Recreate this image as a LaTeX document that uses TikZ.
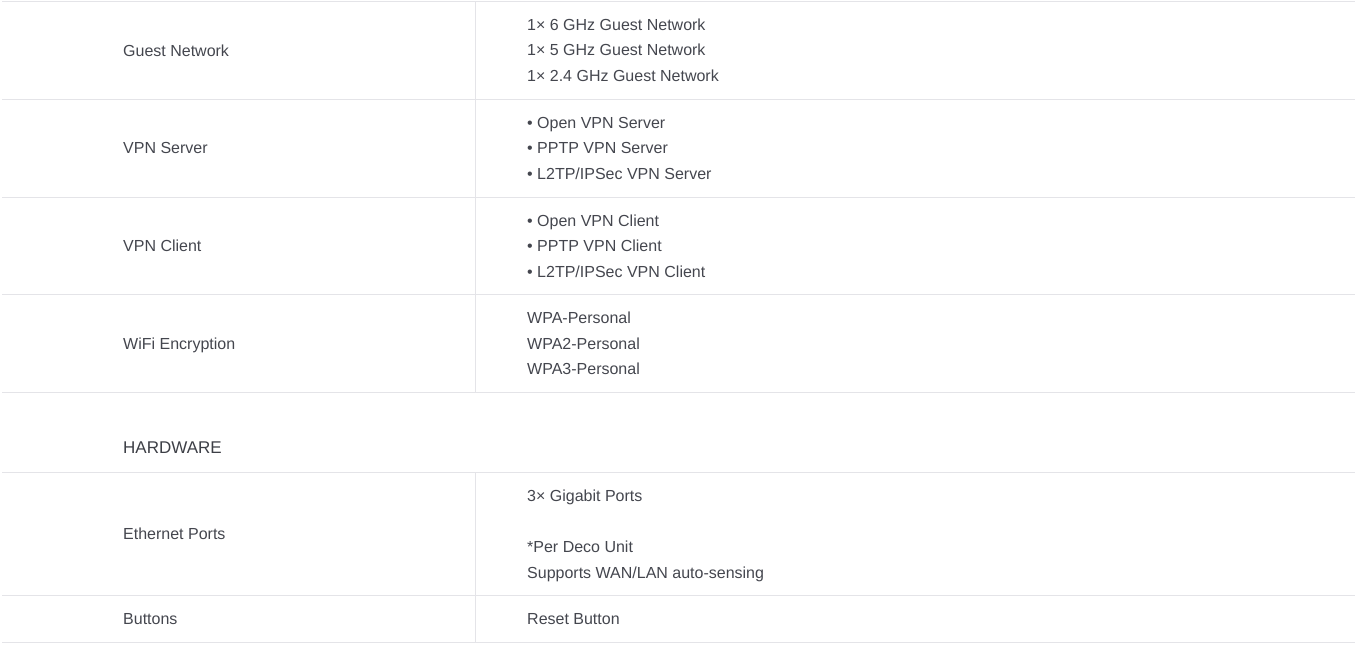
\documentclass[tikz,border=0pt]{standalone}
\usepackage{fontspec}
\setmainfont{Liberation Sans}
\definecolor{rulegray}{HTML}{E4E4E8}
\definecolor{txtgray}{HTML}{44464E}
\tikzset{
  cell/.style={anchor=base west, inner sep=0pt, text=txtgray, font=\fontsize{16}{19}\selectfont},
  head/.style={anchor=base west, inner sep=0pt, text=txtgray!90!black, font=\fontsize{17}{20}\selectfont},
  rule/.style={draw=rulegray, line width=1.2pt}
}
\begin{document}
\begin{tikzpicture}[x=1pt,y=-1pt]
\useasboundingbox (0,0) rectangle (1355,646);
% horizontal rules
\foreach \yy in {1.5,99.5,197.5,294.5,392.5,472.5,595.5,642.5}
  \draw[rule] (2,\yy) -- (1355,\yy);
% vertical divider
\draw[rule] (475.5,1.5) -- (475.5,392.5);
\draw[rule] (475.5,472.5) -- (475.5,642.5);
% Guest Network
\node[cell] (gl) at (123,56) {Guest Network};
\node[cell] (g1) at (527,30) {1× 6 GHz Guest Network};
\node[cell] (g2) at (527,55.5) {1× 5 GHz Guest Network};
\node[cell] (g3) at (527,81) {1× 2.4 GHz Guest Network};
% VPN Server
\node[cell] (sl) at (123,153.5) {VPN Server};
\node[cell] (s1) at (527,128) {• Open VPN Server};
\node[cell] (s2) at (527,153.5) {• PPTP VPN Server};
\node[cell] (s3) at (527,179) {• L2TP/IPSec VPN Server};
% VPN Client
\node[cell] (cl) at (123,251.5) {VPN Client};
\node[cell] (c1) at (527,226) {• Open VPN Client};
\node[cell] (c2) at (527,251.5) {• PPTP VPN Client};
\node[cell] (c3) at (527,277) {• L2TP/IPSec VPN Client};
% WiFi Encryption
\node[cell] (wl) at (123,349) {WiFi Encryption};
\node[cell] (w1) at (527,323) {WPA-Personal};
\node[cell] (w2) at (527,349) {WPA2-Personal};
\node[cell] (w3) at (527,374.5) {WPA3-Personal};
% HARDWARE
\node[head] (hw) at (123,453) {HARDWARE};
% Ethernet Ports
\node[cell] (el) at (123,539) {Ethernet Ports};
\node[cell] (e1) at (527,501) {3× Gigabit Ports};
\node[cell] (e2) at (527,552) {*Per Deco Unit};
\node[cell] (e3) at (527,578) {Supports WAN/LAN auto-sensing};
% Buttons
\node[cell] (bl) at (123,624) {Buttons};
\node[cell] (b1) at (527,624) {Reset Button};
\end{tikzpicture}
\end{document}
